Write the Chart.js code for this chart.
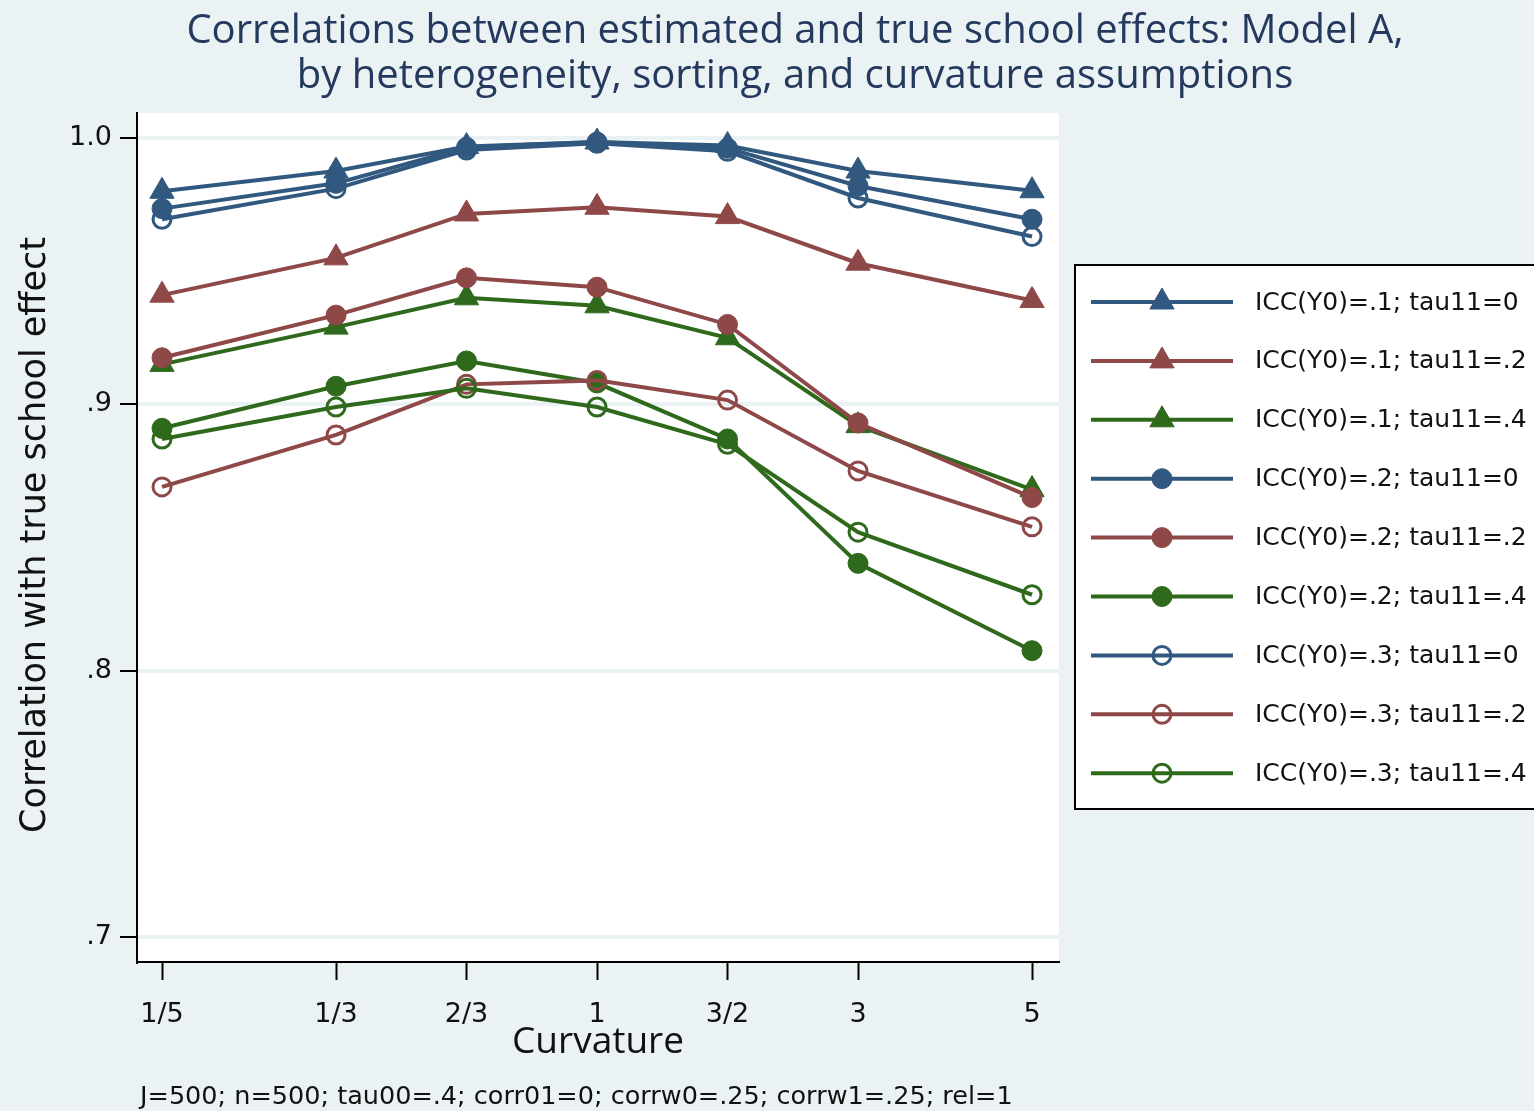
<!DOCTYPE html>
<html>
<head>
<meta charset="utf-8">
<title>Correlations between estimated and true school effects: Model A</title>
<style>
  html, body { margin: 0; padding: 0; background: #eaf2f3; }
  #chart { display: block; }
</style>
<script src="https://cdn.jsdelivr.net/npm/chart.js@4.4.1/dist/chart.umd.min.js"></script>
</head>
<body>
<canvas id="chart" width="1534" height="1111"></canvas>
<script>
// ---- data -------------------------------------------------------------
// curvature settings and their coordinate on the (symmetric) curvature axis
const curvatureLabels = ['1/5', '1/3', '2/3', '1', '3/2', '3', '5'];
const curvatureCode   = [-10 / 3, -2, -1, 0, 1, 2, 10 / 3];

const yTickValues = [0.7, 0.8, 0.9, 1.0];
const yTickLabels = ['.7', '.8', '.9', '1.0'];

const seriesNames = [
  'ICC(Y0)=.1; tau11=0', 'ICC(Y0)=.1; tau11=.2', 'ICC(Y0)=.1; tau11=.4',
  'ICC(Y0)=.2; tau11=0', 'ICC(Y0)=.2; tau11=.2', 'ICC(Y0)=.2; tau11=.4',
  'ICC(Y0)=.3; tau11=0', 'ICC(Y0)=.3; tau11=.2', 'ICC(Y0)=.3; tau11=.4'
];

const icc1_tau0  = [0.980, 0.9876, 0.9968, 0.9985, 0.9972, 0.9876, 0.9802];
const icc1_tau2  = [0.941, 0.955, 0.9715, 0.974, 0.9705, 0.953, 0.939];
const icc1_tau4  = [0.915, 0.929, 0.940, 0.937, 0.925, 0.892, 0.868];
const icc2_tau0  = [0.9735, 0.983, 0.9965, 0.9985, 0.9962, 0.982, 0.9695];
const icc2_tau2  = [0.9175, 0.9335, 0.9475, 0.944, 0.930, 0.893, 0.865];
const icc2_tau4  = [0.891, 0.9068, 0.9163, 0.908, 0.887, 0.8403, 0.8075];
const icc3_tau0  = [0.9695, 0.981, 0.9955, 0.998, 0.995, 0.9775, 0.963];
const icc3_tau2  = [0.869, 0.8885, 0.9075, 0.909, 0.9016, 0.875, 0.854];
const icc3_tau4  = [0.887, 0.899, 0.906, 0.899, 0.885, 0.852, 0.8285];

const seriesValues = [
  icc1_tau0, icc1_tau2, icc1_tau4,
  icc2_tau0, icc2_tau2, icc2_tau4,
  icc3_tau0, icc3_tau2, icc3_tau4
];

const titleLines = [
  'Correlations between estimated and true school effects: Model A,',
  'by heterogeneity, sorting, and curvature assumptions'
];
const yAxisTitle = 'Correlation with true school effect';
const xAxisTitle = 'Curvature';
const noteText = 'J=500; n=500; tau00=.4; corr01=0; corrw0=.25; corrw1=.25; rel=1';

// ---- styles -----------------------------------------------------------
const BLUE = '#31587f';
const RED = '#8f4848';
const GREEN = '#2f6a1c';
const BG = '#eaf2f3';
const TITLE_COLOR = '#25395f';
const SANS = '"DejaVu Sans", Verdana, sans-serif';
const HUMANIST = '"Open Sans", "Noto Sans", sans-serif';

const tauColors = [BLUE, RED, GREEN];
const markers = [
  { pointStyle: 'triangle', radius: 14, borderWidth: 1, hollow: false },
  { pointStyle: 'circle',   radius: 10, borderWidth: 1, hollow: false },
  { pointStyle: 'circle',   radius: 9,  borderWidth: 3, hollow: true }
];

const datasets = seriesValues.map((vals, i) => {
  const color = tauColors[i % 3];
  const m = markers[Math.floor(i / 3)];
  return {
    label: seriesNames[i],
    data: vals.map((v, k) => ({ x: curvatureCode[k], y: v })),
    borderColor: color,
    borderWidth: 4,
    pointStyle: m.pointStyle,
    pointRadius: m.radius,
    pointBorderWidth: m.borderWidth,
    pointBorderColor: color,
    pointBackgroundColor: m.hollow ? 'rgba(0,0,0,0)' : color,
    tension: 0,
    fill: false,
    order: seriesValues.length - i   // later series drawn on top
  };
});

// ---- plugins ----------------------------------------------------------
const backgroundPlugin = {
  id: 'panelBackground',
  beforeDraw(chart) {
    const { ctx, chartArea: a } = chart;
    ctx.save();
    ctx.fillStyle = BG;
    ctx.fillRect(0, 0, chart.width, chart.height);
    ctx.fillStyle = '#ffffff';
    ctx.fillRect(a.left, a.top, a.right - a.left, a.bottom - a.top);
    ctx.restore();
  }
};

const textPlugin = {
  id: 'graphText',
  afterDraw(chart) {
    const { ctx, chartArea: a } = chart;
    ctx.save();
    // title
    ctx.fillStyle = TITLE_COLOR;
    ctx.font = '500 40px ' + HUMANIST;
    ctx.textAlign = 'center';
    ctx.textBaseline = 'middle';
    ctx.fillText(titleLines[0], 795, 32);
    ctx.fillText(titleLines[1], 795, 77);

    // y axis title
    ctx.fillStyle = '#111';
    ctx.save();
    ctx.translate(36, 535);
    ctx.rotate(-Math.PI / 2);
    ctx.font = '35px ' + SANS;
    ctx.fillText(yAxisTitle, 0, 0);
    ctx.restore();

    // x axis title
    ctx.font = '500 37px ' + HUMANIST;
    ctx.fillText(xAxisTitle, (a.left + a.right) / 2, 1042);

    // note
    ctx.font = '25.5px ' + SANS;
    ctx.textAlign = 'left';
    ctx.fillText(noteText, 140, 1097);
    ctx.restore();
  }
};

const boxLegendPlugin = {
  id: 'boxLegend',
  afterDraw(chart) {
    const { ctx } = chart;
    const box = { left: 1075, top: 265, right: 1540, bottom: 809 };
    ctx.save();
    ctx.fillStyle = '#ffffff';
    ctx.fillRect(box.left, box.top, box.right - box.left, box.bottom - box.top);
    ctx.strokeStyle = '#000';
    ctx.lineWidth = 2;
    ctx.strokeRect(box.left, box.top, box.right - box.left, box.bottom - box.top);

    const rowTop = 302, rowStep = 58.9;
    const lineX0 = 1091, lineX1 = 1233, markX = 1162, textX = 1255;
    chart.data.datasets.forEach((ds, i) => {
      const y = rowTop + i * rowStep;
      ctx.strokeStyle = ds.borderColor;
      ctx.lineWidth = ds.borderWidth;
      ctx.beginPath();
      ctx.moveTo(lineX0, y);
      ctx.lineTo(lineX1, y);
      ctx.stroke();

      ctx.fillStyle = ds.pointBackgroundColor;
      ctx.strokeStyle = ds.pointBorderColor;
      ctx.lineWidth = ds.pointBorderWidth;
      Chart.helpers.drawPoint(ctx, {
        pointStyle: ds.pointStyle,
        radius: ds.pointRadius,
        borderWidth: ds.pointBorderWidth,
        rotation: 0
      }, markX, y);

      ctx.fillStyle = '#111';
      ctx.font = '25px ' + SANS;
      ctx.textAlign = 'left';
      ctx.textBaseline = 'middle';
      ctx.fillText(ds.label, textX, y + 1);
    });
    ctx.restore();
  }
};

// ---- chart ------------------------------------------------------------
new Chart(document.getElementById('chart'), {
  type: 'line',
  data: { datasets },
  options: {
    responsive: false,
    animation: false,
    devicePixelRatio: 1,
    layout: { padding: { left: 0, right: 475, top: 113, bottom: 0 } },
    plugins: {
      legend: { display: false },
      tooltip: { enabled: false },
      title: { display: false }
    },
    scales: {
      x: {
        type: 'linear',
        min: -3.525,
        max: 3.54,
        afterFit(scale) { scale.height = 149; },
        afterBuildTicks(scale) { scale.ticks = curvatureCode.map(v => ({ value: v })); },
        ticks: {
          callback: (v, i) => curvatureLabels[i],
          font: { family: SANS, size: 27 },
          color: '#111',
          padding: 19,
          autoSkip: false,
          maxRotation: 0
        },
        grid: {
          drawOnChartArea: false,
          drawTicks: true,
          tickLength: 18,
          tickColor: '#000',
          tickWidth: 2
        },
        border: { color: '#000', width: 2 }
      },
      y: {
        min: 0.6906,
        max: 1.0094,
        afterFit(scale) { scale.width = 137; },
        afterBuildTicks(scale) { scale.ticks = yTickValues.map(v => ({ value: v })); },
        ticks: {
          callback: (v, i) => yTickLabels[i],
          font: { family: SANS, size: 27 },
          color: '#111',
          padding: 8
        },
        grid: {
          color: BG,
          lineWidth: 4,
          drawTicks: true,
          tickLength: 17,
          tickColor: '#000',
          tickWidth: 2
        },
        border: { color: '#000', width: 2 }
      }
    }
  },
  plugins: [backgroundPlugin, textPlugin, boxLegendPlugin]
});
</script>
</body>
</html>
